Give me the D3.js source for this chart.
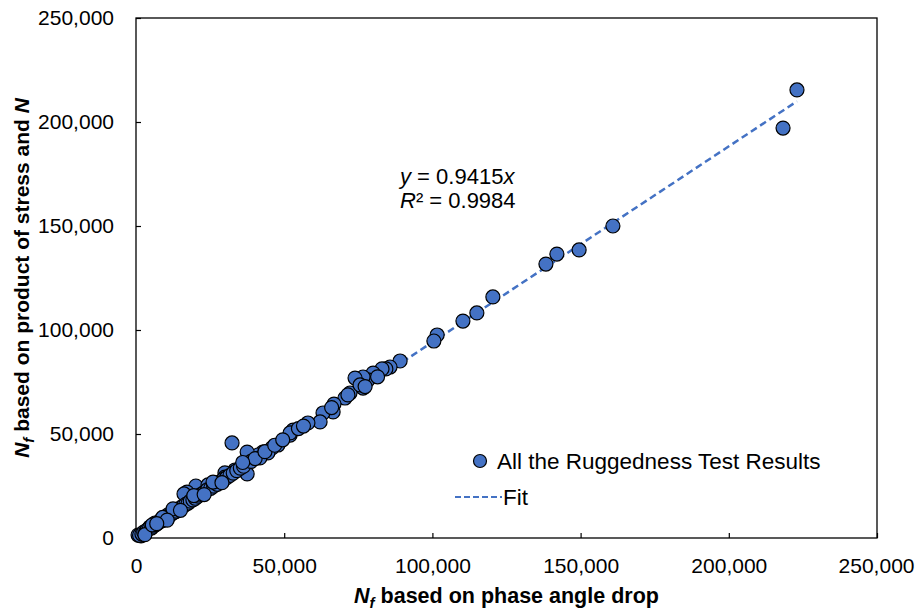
<!DOCTYPE html>
<html>
<head>
<meta charset="utf-8">
<script src="https://cdn.jsdelivr.net/npm/d3@7"></script>
<style>
  body { margin: 0; background: #fff; }
  svg text { font-family: "Liberation Sans", Arial, sans-serif; fill: #000; }
</style>
</head>
<body>
<svg id="chart" width="917" height="610"></svg>
<script>
// N_f by phase angle drop (x) vs N_f by product of stress and N (y)
const phaseAngleNf = [
  223000, 218300, 160900, 149500, 142000, 138300, 120400, 115000, 110300, 101600,
  100500, 89100, 85700, 84300, 83000, 80000, 78300, 76600, 76600, 73900,
  72200, 70500, 75600, 71500, 66800, 66500, 63100, 62100, 58000, 53000,
  52000, 52000, 47900, 45900, 44500, 42800, 41200, 41800, 38500, 37500,
  37500, 32400, 33400, 30000, 27300, 24000, 21600, 20200, 17200, 18900,
  16200, 24300, 27000, 30000, 13200, 10800, 8400, 6400, 4700, 1700,
  700, 1200, 2000, 2600, 3300, 3800, 4500, 5200, 5900, 6700,
  7400, 8100, 8900, 9600, 10300, 11200, 12000, 12700, 13600, 14400,
  15100, 15900, 16800, 17600, 18300, 19200, 20000, 21000, 22000, 23100,
  24100, 25200, 26200, 27400, 28500, 29500, 30600, 31700, 32800, 34000,
  35200, 36300, 38800, 40200, 43500, 46800, 49500, 54800, 56500, 66000,
  77300, 81500, 3000, 5500, 9000, 12500, 15000, 19500, 23000, 26000,
  29000, 36000, 10500, 7000
]
const stressNf = [
  215400, 197100, 150000, 138500, 136500, 131700, 115900, 108200, 104300, 97600,
  94700, 85100, 82200, 81300, 81300, 79300, 76000, 77400, 72100, 76900,
  69700, 67300, 73600, 68800, 64400, 60600, 60100, 55800, 55300, 51900,
  49500, 50500, 44700, 43300, 40900, 41300, 39900, 38500, 37500, 41300,
  30800, 45700, 32700, 31300, 26400, 24500, 23100, 25000, 22100, 19700,
  21200, 25500, 26400, 29300, 12500, 11100, 8700, 7200, 5300, 1000,
  1400, 1300, 1900, 2800, 3100, 3900, 4600, 4800, 5700, 6400,
  7200, 8000, 8400, 9300, 10100, 10500, 11600, 12300, 12900, 13900,
  14600, 15300, 16200, 16800, 17700, 18300, 19100, 20100, 21000, 22000,
  23200, 23900, 24900, 25800, 27100, 28200, 29000, 30100, 31200, 32400,
  33600, 34500, 36800, 38200, 41500, 44600, 47200, 52600, 53800, 62700,
  72800, 77500, 1600, 6300, 9900, 14000, 13300, 20400, 20900, 26900,
  26600, 36300, 8600, 6900
]
const slope = 0.9415
const rSquared = "0.9984"
const tickValues = [0, 50000, 100000, 150000, 200000, 250000]
const seriesName = "All the Ruggedness Test Results"
const fitName = "Fit"

const points = phaseAngleNf.map((x, i) => ({ x: x, y: stressNf[i] }))

let svg = d3.select("#chart")
let margin = { top: 18, right: 40, bottom: 72, left: 136 }
let width = 917 - margin.left - margin.right
let height = 610 - margin.top - margin.bottom
let blue = "#4472C4"
let fmt = d3.format(",")

let xScale = d3.scaleLinear().domain([0, 250000]).range([0, width])
let yScale = d3.scaleLinear().domain([0, 250000]).range([height, 0])

let g = svg.append("g")
    .attr("transform", "translate(" + margin.left + "," + margin.top + ")")

// axes with inside ticks
let xAxis = d3.axisBottom(xScale).tickValues(tickValues).tickSize(-5).tickPadding(17).tickFormat(fmt)
let yAxis = d3.axisLeft(yScale).tickValues(tickValues).tickSize(-5).tickPadding(22).tickFormat(fmt)

let gX = g.append("g").attr("transform", "translate(0," + height + ")").call(xAxis)
let gY = g.append("g").call(yAxis)

gX.select(".domain").remove()
gY.select(".domain").remove()
g.selectAll(".tick line").attr("stroke", "#000").attr("stroke-width", 1.2)
g.selectAll(".tick text").style("font-size", "21px")
gX.selectAll(".tick text").attr("dy", "0.85em")

// keep the last x label inside the picture
gX.selectAll(".tick text")
  .filter(d => d === 250000)
  .attr("text-anchor", "end")
  .attr("dx", (917 - 3 - margin.left - width) + "px")

// plot border
g.append("rect")
    .attr("width", width)
    .attr("height", height)
    .attr("fill", "none")
    .attr("stroke", "#000")
    .attr("stroke-width", 1.3)

// trendline through origin
let xMax = d3.max(points, d => d.x)
g.append("line")
    .attr("x1", xScale(0)).attr("y1", yScale(0))
    .attr("x2", xScale(xMax)).attr("y2", yScale(slope * xMax))
    .attr("stroke", blue)
    .attr("stroke-width", 2.5)
    .attr("stroke-dasharray", "7,4")

g.append("g").selectAll("circle")
    .data(points)
    .enter().append("circle")
      .attr("cx", d => xScale(d.x))
      .attr("cy", d => yScale(d.y))
      .attr("r", 7)
      .attr("fill", blue)
      .attr("stroke", "#000")
      .attr("stroke-width", 1.2)

// equation label
let eq = svg.append("text").attr("x", 400).attr("y", 184).style("font-size", "22px")
eq.append("tspan").style("font-style", "italic").text("y")
eq.append("tspan").text(" = " + slope)
eq.append("tspan").style("font-style", "italic").text("x")
let r2 = svg.append("text").attr("x", 400).attr("y", 208).style("font-size", "22px")
r2.append("tspan").style("font-style", "italic").text("R")
r2.append("tspan").text("² = " + rSquared)

// legend
svg.append("circle")
    .attr("cx", 480).attr("cy", 461).attr("r", 6.5)
    .attr("fill", blue).attr("stroke", "#000").attr("stroke-width", 1.2)
svg.append("text").attr("x", 497).attr("y", 469).style("font-size", "22.5px").text(seriesName)
svg.append("line")
    .attr("x1", 455).attr("x2", 502).attr("y1", 497).attr("y2", 497)
    .attr("stroke", blue).attr("stroke-width", 2).attr("stroke-dasharray", "6,3")
svg.append("text").attr("x", 503).attr("y", 505).style("font-size", "22.5px").text(fitName)

// axis titles
let xt = svg.append("text")
    .attr("x", margin.left + width / 2).attr("y", 603)
    .attr("text-anchor", "middle")
    .style("font-size", "21.5px").style("font-weight", "bold")
xt.append("tspan").style("font-style", "italic").text("N")
xt.append("tspan").style("font-style", "italic").style("font-size", "15px").attr("dy", 5).text("f")
xt.append("tspan").attr("dy", -5).text(" based on phase angle drop")

let yt = svg.append("text")
    .attr("transform", "translate(29," + (margin.top + height / 2) + ") rotate(-90)")
    .attr("text-anchor", "middle")
    .style("font-size", "21px").style("font-weight", "bold")
yt.append("tspan").style("font-style", "italic").text("N")
yt.append("tspan").style("font-style", "italic").style("font-size", "15px").attr("dy", 5).text("f")
yt.append("tspan").attr("dy", -5).text(" based on product of stress and ")
yt.append("tspan").style("font-style", "italic").text("N")
</script>
</body>
</html>
